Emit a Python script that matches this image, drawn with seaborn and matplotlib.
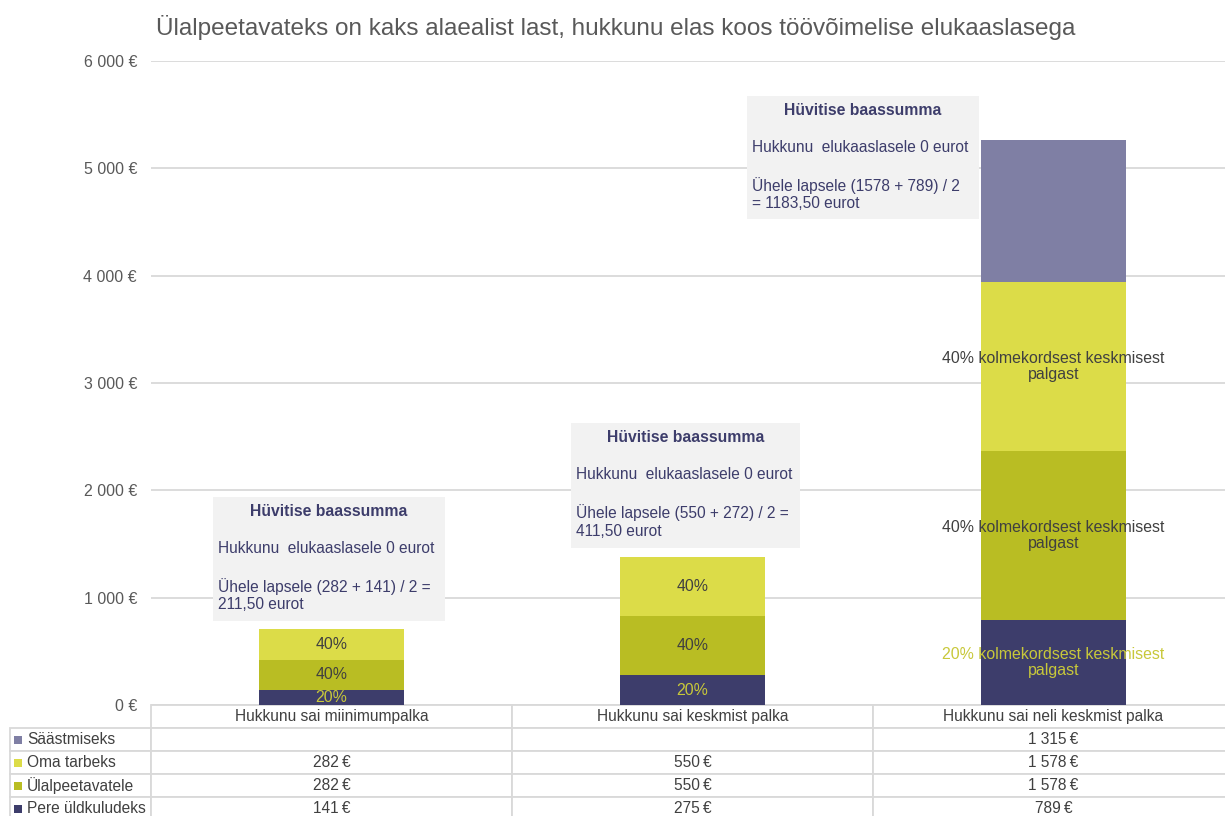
import matplotlib
matplotlib.use("Agg")
import matplotlib.pyplot as plt
import seaborn as sns
from matplotlib.patches import Rectangle

# andmed
title = "Ülalpeetavateks on kaks alaealist last, hukkunu elas koos töövõimelise elukaaslasega"
categories = ["Hukkunu sai miinimumpalka", "Hukkunu sai keskmist palka",
              "Hukkunu sai neli keskmist palka"]
series = ["Säästmiseks", "Oma tarbeks", "Ülalpeetavatele", "Pere üldkuludeks"]
saastmiseks = [None, None, 1315]
oma_tarbeks = [282, 550, 1578]
ulalpeetavatele = [282, 550, 1578]
pere_uldkuludeks = [141, 275, 789]
y_ticks = [0, 1000, 2000, 3000, 4000, 5000, 6000]

labels_pere = ["20%", "20%", "20% kolmekordsest keskmisest\npalgast"]
labels_ulal = ["40%", "40%", "40% kolmekordsest keskmisest\npalgast"]
labels_oma = ["40%", "40%", "40% kolmekordsest keskmisest\npalgast"]

box_title = "Hüvitise baassumma"
box_texts = [
    "Hukkunu  elukaaslasele 0 eurot\n\nÜhele lapsele (282 + 141) / 2 =\n211,50 eurot",
    "Hukkunu  elukaaslasele 0 eurot\n\nÜhele lapsele (550 + 272) / 2 =\n411,50 eurot",
    "Hukkunu  elukaaslasele 0 eurot\n\nÜhele lapsele (1578 + 789) / 2\n= 1183,50 eurot",
]

# stiil
colors = {"Säästmiseks": "#7f7fa4", "Oma tarbeks": "#dcdc48",
          "Ülalpeetavatele": "#b9bd23", "Pere üldkuludeks": "#3d3d6b"}
text_gray = "#595959"
dark_text = "#404040"
navy_text = "#3d3d6b"
grid_gray = "#d9d9d9"
# kastide asukoht andmeühikutes: (vasak x, alumine y, laius, kõrgus)
box_layout = [(-0.328, 783, 0.642, 1156), (0.663, 1463, 0.635, 1165), (1.150, 4530, 0.643, 1146)]


def eur(v):
    if v is None:
        return ""
    return f"{v:,.0f}".replace(",", " ") + "\u2009€"


sns.set_style("white")
plt.rcParams["font.family"] = ["Liberation Sans", "DejaVu Sans"]

fig = plt.figure(figsize=(12.25, 8.16), dpi=100)
ax = fig.add_axes([151 / 1225, 111 / 816, 1083 / 1225, 644 / 816])

layers = [pere_uldkuludeks, ulalpeetavatele, oma_tarbeks, saastmiseks]
layer_names = series[::-1]
cum = []
running = [0, 0, 0]
for vals in layers:
    running = [r + (v or 0) for r, v in zip(running, vals)]
    cum.append(list(running))

# kõrgeimad kihid enne, madalamad peale
for name, heights in reversed(list(zip(layer_names, cum))):
    sns.barplot(x=categories, y=heights, color=colors[name], saturation=1,
                width=0.4, linewidth=0, ax=ax, zorder=2)

# segmentide sildid
bottoms = [0, 0, 0]
for vals, labs, col in [(pere_uldkuludeks, labels_pere, "#c8c83a"),
                        (ulalpeetavatele, labels_ulal, dark_text),
                        (oma_tarbeks, labels_oma, dark_text)]:
    for i, (v, lab) in enumerate(zip(vals, labs)):
        ax.text(i, bottoms[i] + v / 2, lab, ha="center", va="center",
                fontsize=11.4, color=col, linespacing=1.05, zorder=4)
        bottoms[i] += v

# infokastid
for (x0, y0, w, h), body in zip(box_layout, box_texts):
    ax.add_patch(Rectangle((x0, y0), w, h, facecolor="#f2f2f2",
                           edgecolor="none", zorder=3))
    ax.text(x0 + w / 2, y0 + h - 138, box_title, ha="center", va="center",
            fontsize=11.3, fontweight="bold", color=navy_text, zorder=4)
    ax.text(x0 + 0.014, y0 + h - 415, body, ha="left", va="top",
            fontsize=11.2, color=navy_text, linespacing=1.24, zorder=4)

ax.set_xlim(-0.5, 2.5)
ax.set_ylim(0, 6000)
ax.set_yticks(y_ticks)
ax.set_yticklabels([eur(v).replace("\u2009", " ") for v in y_ticks])
ax.tick_params(axis="y", length=0, pad=10, labelsize=11.5, labelcolor=text_gray)
ax.set_xticks([])
ax.set_xlabel("")
ax.set_ylabel("")
ax.set_axisbelow(True)
ax.yaxis.grid(True, color=grid_gray, linewidth=1.3)
sns.despine(ax=ax, left=True, bottom=True)

# andmetabel: esimene veerg on legend
rows = [saastmiseks, oma_tarbeks, ulalpeetavatele, pere_uldkuludeks]
cell_text = [[name] + [eur(v) for v in row] for name, row in zip(series, rows)]
lab_w = 141 / 1083
tbl_h = 115 / 644
tbl = ax.table(cellText=cell_text, colLabels=[""] + categories,
               cellLoc="center", colLoc="center",
               colWidths=[lab_w] + [1 / 3] * 3,
               bbox=[-lab_w, -tbl_h, 1 + lab_w, tbl_h])
tbl.auto_set_font_size(False)
tbl.set_fontsize(11.2)
for (r, c), cell in tbl.get_celld().items():
    cell.set_edgecolor(grid_gray)
    cell.set_linewidth(1.3)
    cell.get_text().set_color(dark_text)
    if c == 0:
        cell._loc = "left"
        cell.get_text().set_horizontalalignment("left")
        cell.PAD = 0.12
tbl[0, 0].set_visible(False)

fig.canvas.draw()
for r, name in enumerate(series, start=1):
    cell = tbl[r, 0]
    ax.scatter(cell.get_x() + 8 / 1083, cell.get_y() + cell.get_height() / 2,
               marker="s", s=26, color=colors[name], transform=ax.transAxes,
               clip_on=False, zorder=5, linewidths=0)

fig.text(156 / 1225, 1 - 27 / 816, title, ha="left", va="center",
         fontsize=17.5, color=text_gray)

fig.savefig("out.png", dpi=100)
